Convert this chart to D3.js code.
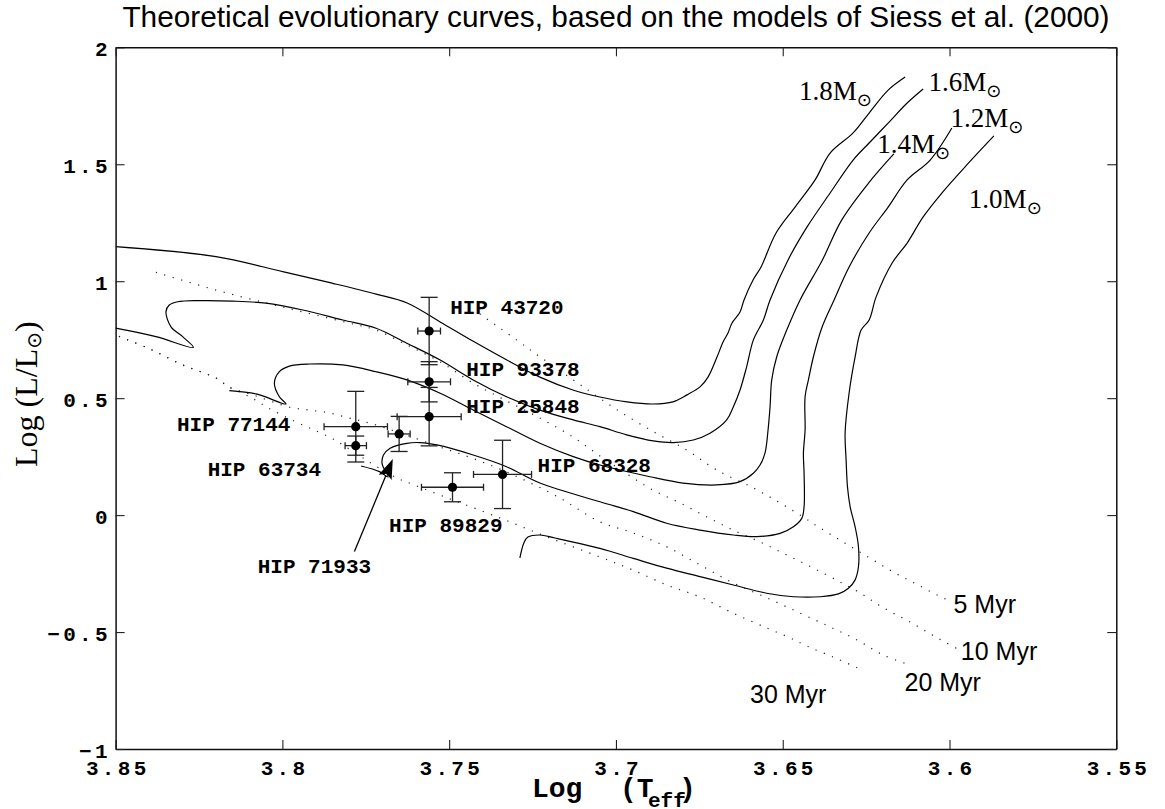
<!DOCTYPE html>
<html><head><meta charset="utf-8">
<script src="https://cdn.jsdelivr.net/npm/d3@7"></script>
<style>body{margin:0;background:#fff}</style>
</head><body>
<svg id="c" width="1165" height="809"></svg>
<script>
// ---------------- data ----------------
const xTicks = [3.85, 3.8, 3.75, 3.7, 3.65, 3.6, 3.55];
const xTickLabels = ["3.85", "3.8", "3.75", "3.7", "3.65", "3.6", "3.55"];
const yTicks = [-1, -0.5, 0, 0.5, 1, 1.5, 2];
const yTickLabels = ["\u22121", "\u22120.5", "0", "0.5", "1", "1.5", "2"];

const trackMasses = ["1.8", "1.6", "1.4", "1.2", "1.0"];
// [log Teff, log L/Lsun]
const track18 = [[3.850,1.148],[3.8199,1.105],[3.7999,1.041],[3.7849,0.991],[3.7719,0.945],[3.7626,0.907],[3.7527,0.826],[3.7429,0.744],[3.7327,0.663],[3.7228,0.590],[3.7129,0.535],[3.7048,0.505],[3.6967,0.484],[3.6889,0.475],[3.6829,0.484],[3.6787,0.514],[3.6748,0.548],[3.6724,0.590],[3.6697,0.676],[3.6679,0.740],[3.6664,0.779],[3.6652,0.821],[3.6628,0.868],[3.6616,0.920],[3.6589,1.005],[3.6565,1.061],[3.6520,1.206],[3.6463,1.317],[3.6403,1.433],[3.6358,1.548],[3.6289,1.634],[3.6241,1.719],[3.6184,1.817],[3.6133,1.873]];
const track16 = [[3.850,0.799],[3.8379,0.763],[3.8267,0.717],[3.8299,0.763],[3.8334,0.805],[3.8349,0.870],[3.8339,0.898],[3.8314,0.912],[3.8249,0.917],[3.8149,0.915],[3.8049,0.906],[3.7939,0.877],[3.7819,0.834],[3.7719,0.799],[3.7627,0.735],[3.7527,0.663],[3.7428,0.578],[3.7328,0.506],[3.7228,0.449],[3.7128,0.407],[3.7048,0.378],[3.6968,0.343],[3.6888,0.317],[3.6828,0.310],[3.6768,0.321],[3.6718,0.350],[3.6668,0.407],[3.6648,0.463],[3.6628,0.535],[3.6608,0.635],[3.6588,0.749],[3.6558,0.834],[3.6538,0.920],[3.6484,1.091],[3.6427,1.232],[3.6358,1.377],[3.6289,1.518],[3.6241,1.591],[3.6184,1.676],[3.6127,1.762],[3.6079,1.822]];
const track14 = [[3.8159,0.532],[3.8079,0.518],[3.7989,0.475],[3.8009,0.506],[3.8024,0.564],[3.8009,0.613],[3.7979,0.637],[3.7919,0.646],[3.7819,0.642],[3.7719,0.613],[3.7627,0.578],[3.7527,0.521],[3.7428,0.449],[3.7328,0.378],[3.7228,0.307],[3.7128,0.250],[3.7048,0.214],[3.6898,0.164],[3.6799,0.137],[3.6698,0.129],[3.6628,0.143],[3.6588,0.179],[3.6568,0.214],[3.6553,0.266],[3.6544,0.364],[3.6538,0.463],[3.6533,0.578],[3.6518,0.677],[3.6488,0.791],[3.6448,0.920],[3.6381,1.091],[3.6323,1.262],[3.6243,1.419],[3.6167,1.544]];
const track12 = [[3.7764,0.210],[3.7709,0.186],[3.7683,0.163],[3.7701,0.219],[3.7697,0.257],[3.7677,0.286],[3.7627,0.307],[3.7587,0.310],[3.7537,0.300],[3.7428,0.257],[3.7328,0.207],[3.7228,0.137],[3.7048,0.057],[3.6948,0.015],[3.6848,-0.035],[3.6748,-0.064],[3.6648,-0.085],[3.6578,-0.092],[3.6508,-0.078],[3.6468,-0.050],[3.6443,-0.014],[3.6436,0.036],[3.6436,0.179],[3.6438,0.264],[3.6433,0.364],[3.6433,0.506],[3.6423,0.578],[3.6408,0.677],[3.6382,0.804],[3.6346,0.920],[3.6301,1.061],[3.6241,1.206],[3.6184,1.317],[3.6127,1.433],[3.6058,1.518],[3.5993,1.655]];
const track10 = [[3.7288,-0.183],[3.7276,-0.119],[3.7264,-0.094],[3.7228,-0.085],[3.7183,-0.098],[3.7048,-0.142],[3.6948,-0.185],[3.6848,-0.227],[3.6748,-0.263],[3.6648,-0.299],[3.6548,-0.334],[3.6468,-0.349],[3.6388,-0.349],[3.6333,-0.337],[3.6303,-0.313],[3.6283,-0.277],[3.6273,-0.221],[3.6273,-0.135],[3.6283,-0.050],[3.6298,0.036],[3.6306,0.122],[3.6310,0.236],[3.6313,0.351],[3.6301,0.522],[3.6283,0.676],[3.6265,0.791],[3.6241,0.834],[3.6220,0.933],[3.6172,1.078],[3.6127,1.163],[3.6079,1.275],[3.6023,1.377],[3.5954,1.488],[3.5867,1.621]];

const isoAges = ["5 Myr", "10 Myr", "20 Myr", "30 Myr"];
const iso5 = [[3.7408,0.860],[3.7298,0.749],[3.7228,0.677],[3.7128,0.578],[3.7063,0.514],[3.6988,0.442],[3.6888,0.357],[3.6788,0.278],[3.6698,0.193],[3.6588,0.116],[3.6508,0.052],[3.6439,-0.008],[3.6388,-0.055],[3.6319,-0.115],[3.6244,-0.179],[3.6169,-0.243],[3.6094,-0.299],[3.6020,-0.354],[3.5990,-0.371]];
const iso10 = [[3.8379,1.038],[3.8199,0.962],[3.8049,0.907],[3.7938,0.868],[3.7800,0.821],[3.7719,0.791],[3.7626,0.727],[3.7527,0.655],[3.7429,0.565],[3.7333,0.492],[3.7228,0.415],[3.7129,0.334],[3.7048,0.253],[3.6967,0.176],[3.6889,0.107],[3.6808,0.052],[3.6727,-0.008],[3.6649,-0.064],[3.6568,-0.115],[3.6487,-0.171],[3.6409,-0.226],[3.6328,-0.286],[3.6268,-0.333],[3.6217,-0.380],[3.6169,-0.419],[3.6118,-0.457],[3.6067,-0.500],[3.6020,-0.538],[3.5969,-0.577]];
const iso20 = [[3.849,0.764],[3.8397,0.710],[3.8299,0.642],[3.8199,0.586],[3.8160,0.548],[3.8079,0.509],[3.7980,0.462],[3.7920,0.449],[3.7860,0.437],[3.7800,0.415],[3.7740,0.394],[3.7647,0.351],[3.7527,0.291],[3.7408,0.231],[3.7288,0.159],[3.7168,0.073],[3.7048,-0.029],[3.6949,-0.076],[3.6847,-0.136],[3.6748,-0.213],[3.6649,-0.290],[3.6547,-0.354],[3.6448,-0.419],[3.6358,-0.478],[3.6277,-0.534],[3.6199,-0.598],[3.6118,-0.641]];
const iso30 = [[3.849,0.764],[3.8397,0.710],[3.8299,0.642],[3.8199,0.586],[3.8160,0.548],[3.8097,0.505],[3.8037,0.454],[3.7959,0.398],[3.7899,0.360],[3.7848,0.325],[3.7809,0.291],[3.7758,0.244],[3.7710,0.201],[3.7650,0.154],[3.7620,0.137],[3.7497,0.069],[3.7348,-0.012],[3.7198,-0.098],[3.7048,-0.179],[3.6949,-0.235],[3.6847,-0.299],[3.6748,-0.350],[3.6649,-0.419],[3.6547,-0.483],[3.6478,-0.525],[3.6427,-0.560],[3.6349,-0.607],[3.6268,-0.658]];

const starNames = ["HIP 43720", "HIP 93378", "HIP 25848", "HIP 68328", "HIP 89829", "HIP 77144", "HIP 63734", "HIP 71933"];
const starLogT  = [3.756, 3.756, 3.756, 3.734, 3.749, 3.778, 3.778, 3.765];
const starLogL  = [0.787, 0.570, 0.421, 0.174, 0.119, 0.378, 0.297, 0.347];
const starErrL  = [0.144, 0.086, 0.125, 0.146, 0.062, 0.151, 0.041, 0.075];
const starErrT  = [0.0034, 0.0064, 0.0096, 0.0087, 0.0093, 0.0095, 0.0032, 0.0033];

const titleText = "Theoretical evolutionary curves, based on the models of Siess et al. (2000)";

// ---------------- layout ----------------
const svg = d3.select("#c");
const x = d3.scaleLinear().domain([3.85, 3.55]).range([115.6, 1116.3]);
const y = d3.scaleLinear().domain([-1, 2]).range([749, 47.3]);

const starLabelPos = [[3.7497,0.860],[3.7449,0.595],[3.7449,0.435],[3.7235,0.186],[3.7680,-0.071],[3.8316,0.360],[3.8224,0.167],[3.8074,-0.249]];
const massLabelPos = [[3.6451,1.775],[3.6063,1.813],[3.6217,1.548],[3.5997,1.659],[3.5942,1.313]];
const ageLabelPos = [[3.5988,-0.418],[3.5966,-0.619],[3.6135,-0.751],[3.6598,-0.802]];
const arrowFrom = [3.7784, -0.156], arrowTo = [3.7669, 0.240];

const MONO = "'Liberation Mono', 'Courier New', monospace";
const SANS = "'Liberation Sans', Arial, Helvetica, sans-serif";
const SERIF = "'Liberation Serif', 'Times New Roman', serif";

// title
svg.append("text").attr("x", (x.range()[0] + x.range()[1]) / 2).attr("y", 27)
  .attr("text-anchor", "middle").style("font-family", SANS).style("font-size", "29.8px")
  .text(titleText);

// clip
svg.append("clipPath").attr("id", "plotclip").append("rect")
  .attr("x", x(3.85)).attr("y", y(2)).attr("width", x(3.55) - x(3.85)).attr("height", y(-1) - y(2));

const plot = svg.append("g").attr("clip-path", "url(#plotclip)");
const line = d3.line().x(d => x(d[0])).y(d => y(d[1])).curve(d3.curveCatmullRom.alpha(0.5));

// isochrones (dotted)
[iso5, iso10, iso20, iso30].forEach(iso => {
  plot.append("path").attr("d", line(iso)).attr("fill", "none")
    .attr("stroke", "#222").attr("stroke-width", 1.2).attr("stroke-dasharray", "1.2 7.6");
});
// tracks (solid)
[track18, track16, track14, track12, track10].forEach(tr => {
  plot.append("path").attr("d", line(tr)).attr("fill", "none")
    .attr("stroke", "#000").attr("stroke-width", 1.2);
});

// error bars + points
const capV = 8.5, capH = 3.5;
const eb = svg.append("g").attr("stroke", "#222").attr("stroke-width", 1.3);
starNames.forEach((n, i) => {
  const cx = x(starLogT[i]), cy = y(starLogL[i]);
  const y1 = y(starLogL[i] + starErrL[i]), y2 = y(starLogL[i] - starErrL[i]);
  const x1 = x(starLogT[i] + starErrT[i]), x2 = x(starLogT[i] - starErrT[i]);
  eb.append("line").attr("x1", cx).attr("x2", cx).attr("y1", y1).attr("y2", y2);
  eb.append("line").attr("x1", cx - capV).attr("x2", cx + capV).attr("y1", y1).attr("y2", y1);
  eb.append("line").attr("x1", cx - capV).attr("x2", cx + capV).attr("y1", y2).attr("y2", y2);
  eb.append("line").attr("x1", x1).attr("x2", x2).attr("y1", cy).attr("y2", cy);
  eb.append("line").attr("x1", x1).attr("x2", x1).attr("y1", cy - capH).attr("y2", cy + capH);
  eb.append("line").attr("x1", x2).attr("x2", x2).attr("y1", cy - capH).attr("y2", cy + capH);
});
svg.append("g").selectAll("circle").data(starNames).join("circle")
  .attr("cx", (d, i) => x(starLogT[i])).attr("cy", (d, i) => y(starLogL[i]))
  .attr("r", 4.6).attr("fill", "#000");

// star labels
svg.append("g").selectAll("text").data(starNames).join("text")
  .attr("x", (d, i) => x(starLabelPos[i][0])).attr("y", (d, i) => y(starLabelPos[i][1]))
  .style("font-family", MONO).style("font-weight", "bold").style("font-size", "21px")
  .text(d => d);

// arrow
{
  const ax0 = x(arrowFrom[0]), ay0 = y(arrowFrom[1]), ax1 = x(arrowTo[0]), ay1 = y(arrowTo[1]);
  const len = Math.hypot(ax1 - ax0, ay1 - ay0), ux = (ax1 - ax0) / len, uy = (ay1 - ay0) / len;
  const hl = 20, hw = 7;
  const bx = ax1 - ux * hl, by = ay1 - uy * hl;
  svg.append("line").attr("x1", ax0).attr("y1", ay0).attr("x2", bx + ux * 2).attr("y2", by + uy * 2)
    .attr("stroke", "#000").attr("stroke-width", 1.3);
  svg.append("path").attr("d", `M${ax1},${ay1}L${bx - uy * hw},${by + ux * hw}L${bx + ux * 4},${by + uy * 4}L${bx + uy * hw},${by - ux * hw}Z`)
    .attr("fill", "#000");
}

// mass labels
massLabelPos.forEach((p, i) => {
  const t = svg.append("text").attr("x", x(p[0])).attr("y", y(p[1]))
    .style("font-family", SERIF).style("font-size", "27px");
  t.append("tspan").text(trackMasses[i] + "M");
  t.append("tspan").attr("dy", 6).style("font-family", "'DejaVu Sans', sans-serif").style("font-size", "18px").text("\u2299");
});

// age labels
ageLabelPos.forEach((p, i) => {
  svg.append("text").attr("x", x(p[0])).attr("y", y(p[1]))
    .style("font-family", SANS).style("font-size", "25px").text(isoAges[i]);
});

// axes
const tk = 9, ls = 3.3;
function styleAxis(g) {
  g.select(".domain").attr("stroke", "#111").attr("stroke-width", 1.5);
  g.selectAll(".tick line").attr("stroke", "#222").attr("stroke-width", 1.1);
  g.selectAll("text").style("font-family", MONO).style("font-weight", "bold")
    .style("font-size", "21px").style("letter-spacing", ls + "px").attr("fill", "#000");
}
const gB = svg.append("g").attr("transform", `translate(0,${y(-1)})`)
  .call(d3.axisBottom(x).tickValues(xTicks).tickFormat((d, i) => xTickLabels[i]).tickSizeInner(-tk).tickSizeOuter(0).tickPadding(11));
styleAxis(gB); gB.selectAll("text").attr("dx", ls / 2);
const gL = svg.append("g").attr("transform", `translate(${x(3.85)},0)`)
  .call(d3.axisLeft(y).tickValues(yTicks).tickFormat((d, i) => yTickLabels[i]).tickSizeInner(-tk).tickSizeOuter(0).tickPadding(8));
styleAxis(gL); gL.selectAll("text").attr("dx", ls).attr("dy", "0.4em");
const gT = svg.append("g").attr("transform", `translate(0,${y(2)})`)
  .call(d3.axisTop(x).tickValues(xTicks).tickFormat("").tickSizeInner(-tk).tickSizeOuter(0));
styleAxis(gT);
const gR = svg.append("g").attr("transform", `translate(${x(3.55)},0)`)
  .call(d3.axisRight(y).tickValues(yTicks).tickFormat("").tickSizeInner(-tk).tickSizeOuter(0));
styleAxis(gR);

// axis titles
{
  const t = svg.append("text").attr("y", 797).style("font-family", MONO).style("font-weight", "bold").style("font-size", "28px");
  t.append("tspan").attr("x", 532).text("Log");
  t.append("tspan").attr("x", 620).text("(T");
  t.append("tspan").attr("x", 648).attr("dy", 10).style("font-size", "21px").text("eff");
  t.append("tspan").attr("x", 679).attr("dy", -10).text(")");
}
{
  const t = svg.append("text").attr("transform", `translate(36.5,${(y(2) + y(-1)) / 2 - 4}) rotate(-90)`)
    .attr("text-anchor", "middle").style("font-family", SERIF).style("font-size", "32px");
  t.append("tspan").text("Log (L/L");
  t.append("tspan").attr("dy", 4).style("font-family", "'DejaVu Sans', sans-serif").style("font-size", "20px").text("\u2299");
  t.append("tspan").attr("dy", -4).text(")");
}
</script>
</body></html>
